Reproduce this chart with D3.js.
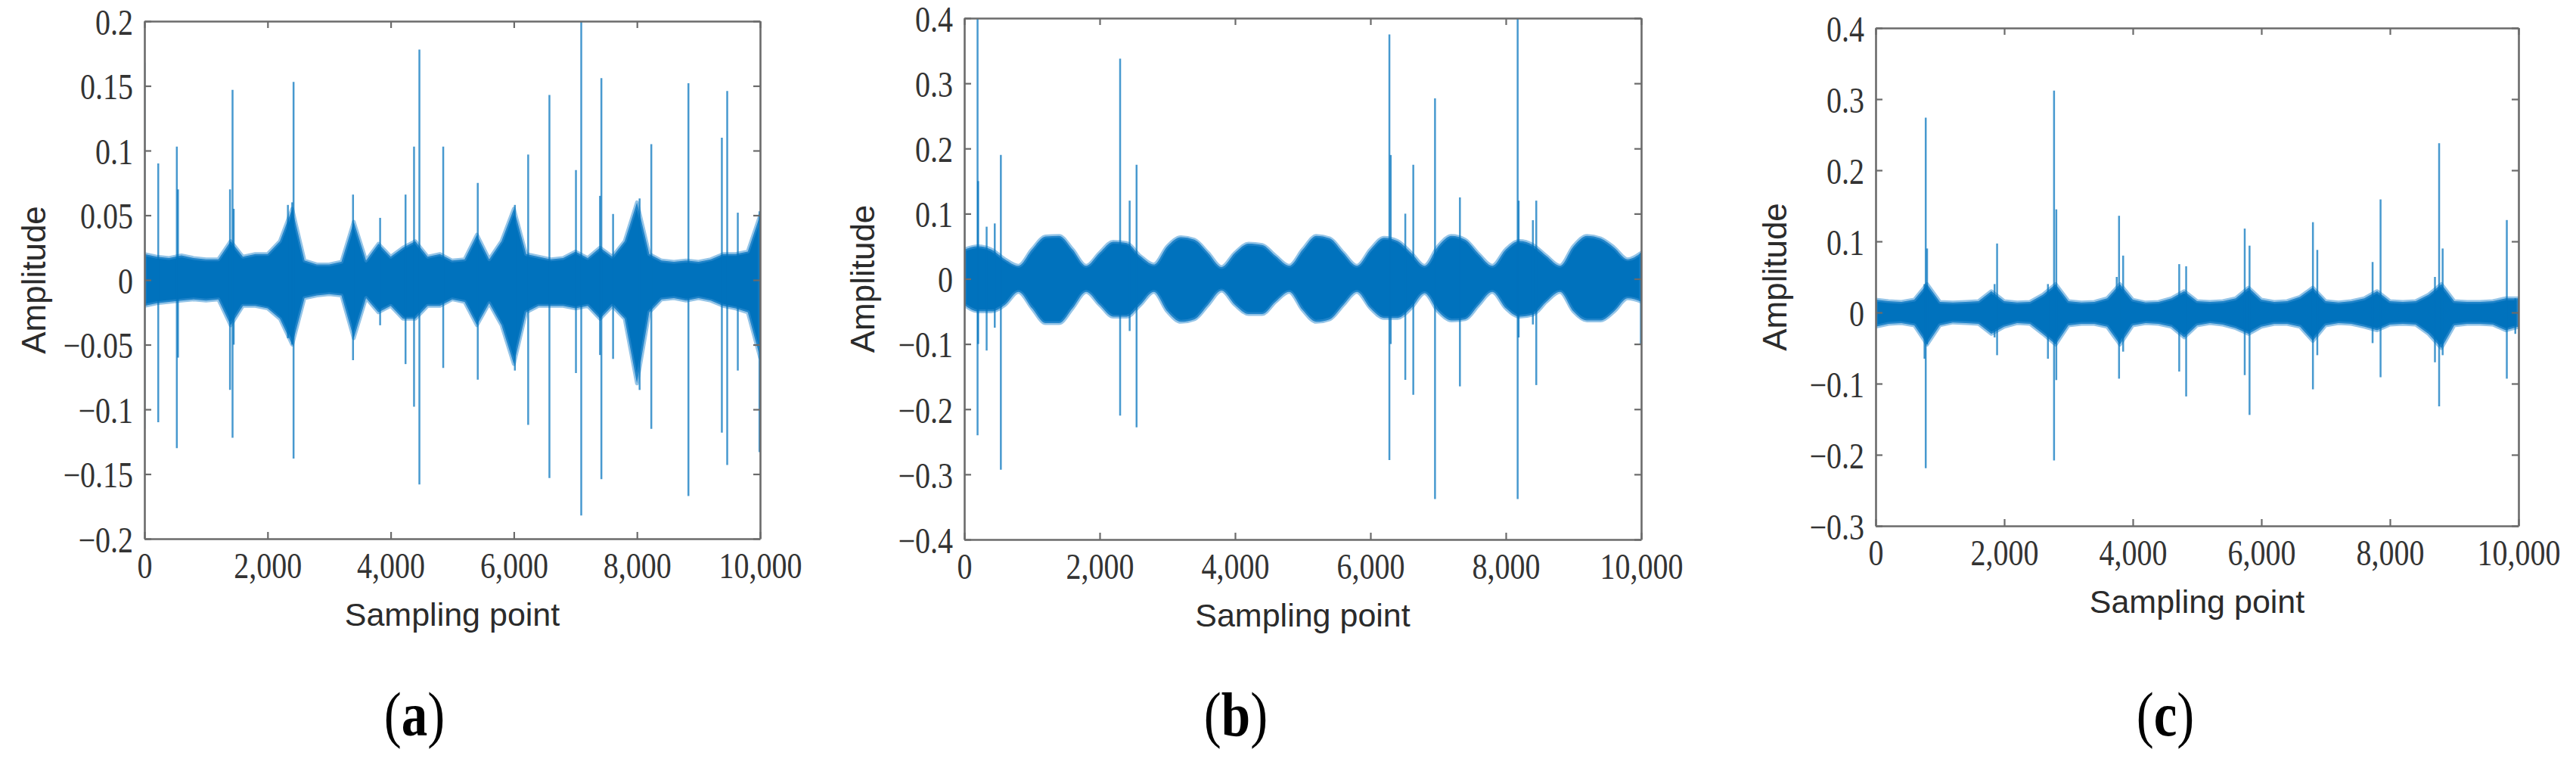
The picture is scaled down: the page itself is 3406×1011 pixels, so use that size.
<!DOCTYPE html>
<html lang="en">
<head>
  <meta charset="UTF-8">
  <title>Amplitude vs sampling point, panels (a) (b) (c)</title>
  <script src="https://d3js.org/d3.v7.min.js"></script>
</head>

<body style="margin:0;background:#fff">

<div id="chart"></div>

<script>

var envX = [0,200,400,600,800,1000,1200,1400,1600,1800,
            2000,2200,2400,2600,2800,3000,3200,3400,3600,3800,
            4000,4200,4400,4600,4800,5000,5200,5400,5600,5800,
            6000,6200,6400,6600,6800,7000,7200,7400,7600,7800,
            8000,8200,8400,8600,8800,9000,9200,9400,9600,9800,10000];

var xTicks = [0, 2000, 4000, 6000, 8000, 10000];

// ---- panel (a)
var aYTicks = [-0.2, -0.15, -0.1, -0.05, 0, 0.05, 0.1, 0.15, 0.2];
var aUpper = [0.02,0.018,0.017,0.019,0.017,0.016,0.016,0.03,0.018,0.02,
              0.02,0.03,0.055,0.015,0.012,0.012,0.014,0.045,0.015,0.028,
              0.018,0.025,0.03,0.018,0.02,0.015,0.016,0.035,0.016,0.03,
              0.055,0.02,0.018,0.016,0.017,0.022,0.017,0.025,0.018,0.03,
              0.06,0.02,0.015,0.014,0.015,0.014,0.016,0.02,0.02,0.022,0.05];
var aLower = [-0.02,-0.018,-0.017,-0.016,-0.015,-0.016,-0.015,-0.035,-0.02,-0.02,
              -0.022,-0.03,-0.05,-0.014,-0.012,-0.011,-0.012,-0.045,-0.014,-0.025,
              -0.02,-0.03,-0.03,-0.02,-0.02,-0.015,-0.017,-0.035,-0.018,-0.035,
              -0.065,-0.025,-0.02,-0.02,-0.02,-0.022,-0.02,-0.03,-0.02,-0.03,
              -0.08,-0.025,-0.015,-0.014,-0.016,-0.014,-0.016,-0.02,-0.022,-0.025,-0.06];
var aSpikeX  = [0, 224, 526, 545, 1390, 1431, 1450, 2330, 2400, 2422, 3388, 3828, 4241, 4379, 4466,
                4853, 5414, 6017, 6233, 6578, 7009, 7095, 7400, 7422, 7612, 8043, 8233, 8836, 9379, 9466, 9638, 9990];
var aSpikeHi = [0.168, 0.09, 0.103, 0.07, 0.07, 0.147, 0.055, 0.058, 0.06, 0.153, 0.066, 0.048, 0.066, 0.103, 0.178,
                0.103, 0.075, 0.058, 0.097, 0.143, 0.085, 0.2, 0.065, 0.156, 0.051, 0.063, 0.105, 0.152, 0.11, 0.146, 0.052, 0.053];
var aSpikeLo = [-0.115, -0.11, -0.13, -0.06, -0.085, -0.122, -0.05, -0.045, -0.05, -0.138, -0.062, -0.035, -0.065, -0.098, -0.158,
                -0.068, -0.077, -0.07, -0.112, -0.153, -0.072, -0.182, -0.058, -0.154, -0.061, -0.085, -0.115, -0.167, -0.118, -0.143, -0.07, -0.133];

// ---- panel (b)
var bYTicks = [-0.4, -0.3, -0.2, -0.1, 0, 0.1, 0.2, 0.3, 0.4];
var bUpper = [0.045,0.05,0.045,0.03,0.02,0.045,0.065,0.066,0.045,0.02,
              0.04,0.057,0.055,0.035,0.022,0.05,0.064,0.06,0.04,0.018,
              0.04,0.054,0.052,0.035,0.02,0.045,0.066,0.062,0.04,0.02,
              0.045,0.063,0.058,0.04,0.02,0.05,0.066,0.06,0.038,0.02,
              0.045,0.058,0.052,0.035,0.02,0.05,0.066,0.062,0.048,0.03,0.04];
var bLower = [-0.04,-0.05,-0.05,-0.04,-0.02,-0.045,-0.068,-0.068,-0.045,-0.02,
              -0.04,-0.058,-0.058,-0.04,-0.02,-0.05,-0.066,-0.062,-0.04,-0.018,
              -0.04,-0.054,-0.054,-0.035,-0.02,-0.048,-0.066,-0.062,-0.04,-0.02,
              -0.045,-0.06,-0.06,-0.045,-0.022,-0.05,-0.064,-0.062,-0.04,-0.02,
              -0.045,-0.058,-0.055,-0.035,-0.02,-0.05,-0.064,-0.064,-0.05,-0.03,-0.035];
var bSpikeX  = [0, 196, 205, 330, 450, 540, 2302, 2443, 2545, 6280, 6300, 6515, 6633, 6954, 7322, 8175, 8190, 8400, 8450, 9995];
var bSpikeHi = [0.098, 0.4, 0.15, 0.08, 0.085, 0.19, 0.338, 0.12, 0.175, 0.375, 0.19, 0.1, 0.175, 0.277, 0.125, 0.4, 0.12, 0.09, 0.12, 0.04];
var bSpikeLo = [-0.05, -0.24, -0.1, -0.11, -0.075, -0.293, -0.21, -0.08, -0.228, -0.278, -0.1, -0.155, -0.178, -0.338, -0.165, -0.338, -0.09, -0.07, -0.163, -0.1];

// ---- panel (c)
var cYTicks = [-0.3, -0.2, -0.1, 0, 0.1, 0.2, 0.3, 0.4];
var cUpper = [0.018,0.016,0.015,0.018,0.04,0.015,0.014,0.015,0.016,0.03,
              0.016,0.014,0.015,0.025,0.04,0.016,0.014,0.015,0.02,0.04,
              0.018,0.014,0.015,0.02,0.03,0.016,0.015,0.016,0.02,0.035,
              0.018,0.015,0.016,0.022,0.035,0.016,0.014,0.016,0.02,0.03,
              0.016,0.015,0.016,0.025,0.04,0.016,0.015,0.015,0.016,0.02,0.02];
var cLower = [-0.02,-0.016,-0.015,-0.018,-0.045,-0.018,-0.014,-0.015,-0.016,-0.03,
              -0.02,-0.015,-0.016,-0.03,-0.045,-0.018,-0.016,-0.016,-0.02,-0.045,
              -0.018,-0.015,-0.016,-0.02,-0.035,-0.018,-0.015,-0.017,-0.022,-0.03,
              -0.02,-0.016,-0.016,-0.02,-0.04,-0.018,-0.015,-0.016,-0.02,-0.025,
              -0.017,-0.016,-0.017,-0.03,-0.05,-0.018,-0.016,-0.016,-0.017,-0.025,-0.02];
var cSpikeX  = [760, 779, 800, 1850, 1889, 2680, 2775, 2810, 3750, 3786, 3850, 4722, 4830, 5741, 5816,
                6802, 6870, 7730, 7854, 8700, 8765, 8820, 9818, 9950];
var cSpikeHi = [0.04, 0.274, 0.09, 0.04, 0.097, 0.04, 0.312, 0.145, 0.05, 0.136, 0.08, 0.068, 0.065, 0.118, 0.094,
                0.127, 0.088, 0.071, 0.159, 0.05, 0.238, 0.09, 0.13, 0.02];
var cSpikeLo = [-0.065, -0.219, -0.045, -0.035, -0.06, -0.065, -0.208, -0.095, -0.03, -0.093, -0.055, -0.083, -0.118, -0.088, -0.144,
                -0.108, -0.06, -0.043, -0.091, -0.07, -0.132, -0.06, -0.093, -0.03];

var blue = "#0072BD";
var axisColor = "#6b6b6b";
var serif = "'Liberation Serif', 'Times New Roman', serif";
var sans = "'Liberation Sans', Arial, sans-serif";

var panels = [
  {id: "a", left: 191, right: 1005, top: 28, bottom: 712, yDomain: [-0.2, 0.2], yTicks: aYTicks,
   up: aUpper, lo: aLower, sx: aSpikeX, shi: aSpikeHi, slo: aSpikeLo, curve: d3.curveLinear, yLabelX: 60, capX: 548},
  {id: "b", left: 1275, right: 2170, top: 24, bottom: 713, yDomain: [-0.4, 0.4], yTicks: bYTicks,
   up: bUpper, lo: bLower, sx: bSpikeX, shi: bSpikeHi, slo: bSpikeLo, curve: d3.curveMonotoneX, yLabelX: 1156, capX: 1634},
  {id: "c", left: 2480, right: 3330, top: 37, bottom: 695, yDomain: [-0.3, 0.4], yTicks: cYTicks,
   up: cUpper, lo: cLower, sx: cSpikeX, shi: cSpikeHi, slo: cSpikeLo, curve: d3.curveLinear, yLabelX: 2362, capX: 2863}
];

var svg = d3.select("#chart").append("svg")
  .attr("width", 3406)
  .attr("height", 1011)
  .style("display", "block");

var fmtY = d3.format("~g");
var fmtX = d3.format(",");

panels.forEach(function(p) {
  var x = d3.scaleLinear().domain([0, 10000]).range([p.left, p.right]);
  var y = d3.scaleLinear().domain(p.yDomain).range([p.bottom, p.top]);
  var g = svg.append("g");

  g.append("clipPath").attr("id", "clip-" + p.id)
    .append("rect")
    .attr("x", p.left).attr("y", p.top)
    .attr("width", p.right - p.left).attr("height", p.bottom - p.top);

  var plot = g.append("g").attr("clip-path", "url(#clip-" + p.id + ")");

  // dense signal band, with a lighter fringe to mimic the hairy edge
  var band = envX.map(function(s, i) { return {s: s, hi: p.up[i], lo: p.lo[i]}; });
  var area = d3.area()
    .curve(p.curve)
    .x(d => x(d.s))
    .y0(d => y(d.lo))
    .y1(d => y(d.hi));
  plot.append("path")
    .datum(band)
    .attr("fill", blue)
    .attr("stroke", "#3d93d3")
    .attr("stroke-opacity", 0.55)
    .attr("stroke-width", 5)
    .attr("stroke-linejoin", "round")
    .attr("d", area);

  // impulse spikes
  var spikes = p.sx.map(function(s, i) { return {s: s, hi: p.shi[i], lo: p.slo[i]}; });
  plot.selectAll("line.spike")
    .data(spikes)
    .join("line")
    .attr("class", "spike")
    .attr("x1", d => x(d.s)).attr("x2", d => x(d.s))
    .attr("y1", d => y(d.hi)).attr("y2", d => y(d.lo))
    .attr("stroke", blue)
    .attr("stroke-opacity", 0.72)
    .attr("stroke-width", 2.5);

  // axes, ticks pointing inward on all four sides
  var bottomAxis = g.append("g")
    .attr("transform", "translate(0," + p.bottom + ")")
    .call(d3.axisBottom(x).tickValues(xTicks).tickFormat(fmtX).tickSizeInner(-9).tickSizeOuter(0).tickPadding(15));
  var leftAxis = g.append("g")
    .attr("transform", "translate(" + p.left + ",0)")
    .call(d3.axisLeft(y).tickValues(p.yTicks).tickFormat(fmtY).tickSizeInner(-9).tickSizeOuter(0).tickPadding(15));
  var topAxis = g.append("g")
    .attr("transform", "translate(0," + p.top + ")")
    .call(d3.axisTop(x).tickValues(xTicks).tickFormat("").tickSizeInner(-9).tickSizeOuter(0));
  var rightAxis = g.append("g")
    .attr("transform", "translate(" + p.right + ",0)")
    .call(d3.axisRight(y).tickValues(p.yTicks).tickFormat("").tickSizeInner(-9).tickSizeOuter(0));

  [bottomAxis, leftAxis, topAxis, rightAxis].forEach(function(ax) {
    ax.select(".domain").attr("stroke", axisColor).attr("stroke-width", 2.6);
    ax.selectAll(".tick line").attr("stroke", axisColor).attr("stroke-width", 2.2);
    ax.selectAll(".tick text")
      .attr("fill", "#333")
      .attr("font-family", serif)
      .attr("font-size", 40)
      .attr("transform", "scale(1,1.2)");
  });
  // keep the top y label a touch lower so it stays inside the page
  leftAxis.selectAll(".tick text").attr("dy", "0.36em");

  g.append("text")
    .attr("transform", "translate(" + p.yLabelX + "," + ((p.top + p.bottom) / 2) + ") rotate(-90)")
    .attr("text-anchor", "middle")
    .attr("font-family", sans)
    .attr("font-size", 44)
    .attr("fill", "#2b2b2b")
    .text("Amplitude");

  g.append("text")
    .attr("x", (p.left + p.right) / 2)
    .attr("y", p.bottom + 115)
    .attr("text-anchor", "middle")
    .attr("font-family", sans)
    .attr("font-size", 43)
    .attr("fill", "#2b2b2b")
    .text("Sampling point");

  var cap = g.append("text")
    .attr("transform", "translate(" + p.capX + ",972) scale(1,1.2)")
    .attr("text-anchor", "middle")
    .attr("font-family", serif)
    .attr("font-size", 69)
    .attr("fill", "#000");
  cap.append("tspan").text("(");
  cap.append("tspan").attr("font-weight", "bold").text(p.id);
  cap.append("tspan").text(")");
});

</script>

</body>
</html>
